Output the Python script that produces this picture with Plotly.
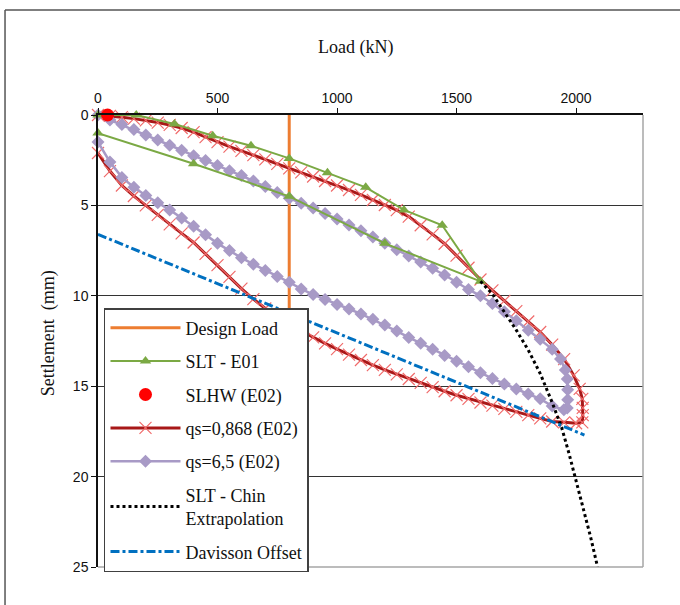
import plotly.graph_objects as go

# ---------------- data ----------------
design_load = 800
settle_range = [0, 25]

slt_e01_load = [0, 160, 320, 480, 640, 800, 960, 1120, 1280, 1440, 1600, 1200, 800, 400, 0]
slt_e01_settle = [0, 0.0, 0.5, 1.15, 1.7, 2.4, 3.2, 4.0, 5.25, 6.1, 9.2, 7.1, 4.5, 2.7, 1.0]

slhw_load = [40]
slhw_settle = [0.0]

qs0868_load = [0, 50, 100, 150, 200, 250, 300, 350, 400, 450, 500, 550, 600, 650, 700, 750, 800,
               850, 900, 950, 1000, 1050, 1100, 1150, 1200, 1250, 1300, 1350, 1400, 1450, 1500,
               1550, 1600, 1650, 1700, 1750, 1800, 1850, 1900, 1950, 1990, 2015, 2026, 2028, 2028,
               2026,
               2000, 1950, 1900, 1850, 1800, 1750, 1700, 1650, 1600, 1550, 1500, 1450, 1400, 1350,
               1300, 1250, 1200, 1150, 1100, 1050, 1000, 950, 900, 850, 800, 750, 700, 650, 600,
               550, 500, 450, 400, 350, 300, 250, 200, 150, 100, 50, 0]
qs0868_settle = [0.0, 0.05, 0.12, 0.2, 0.3, 0.42, 0.55, 0.72, 0.95, 1.22, 1.5, 1.75, 1.98, 2.22,
                 2.45, 2.7, 2.95, 3.17, 3.4, 3.65, 3.9, 4.15, 4.42, 4.7, 4.98, 5.26, 5.62, 6.1,
                 6.6, 7.12, 7.78, 8.45, 9.1, 9.7, 10.28, 10.85, 11.42, 12.0, 12.7, 13.5, 14.4,
                 15.15, 15.7, 16.2, 16.6, 17.0,
                 17.05, 17.0, 16.95, 16.78, 16.6, 16.42, 16.25, 16.07, 15.9, 15.7, 15.5, 15.28,
                 15.05, 14.82, 14.6, 14.35, 14.1, 13.83, 13.55, 13.25, 12.95, 12.63, 12.3, 11.95,
                 11.55, 11.15, 10.7, 10.18, 9.6, 8.95, 8.3, 7.68, 7.05, 6.55, 6.05, 5.52, 5.0,
                 4.48, 3.9, 3.1, 2.1]

qs65_load = [0, 50, 100, 150, 200, 250, 300, 350, 400, 450, 500, 550, 600, 650, 700, 750, 800,
             850, 900, 950, 1000, 1050, 1100, 1150, 1200, 1250, 1300, 1350, 1400, 1450, 1500,
             1550, 1600, 1650, 1700, 1750, 1800, 1850, 1900, 1935, 1955, 1963, 1965, 1965, 1963,
             1949, 1900, 1850, 1800, 1750, 1700, 1650, 1600, 1550, 1500, 1450, 1400, 1350, 1300,
             1250, 1200, 1150, 1100, 1050, 1000, 950, 900, 850, 800, 750, 700, 650, 600, 550,
             500, 450, 400, 350, 300, 250, 200, 150, 100, 50, 0]
qs65_settle = [0.0, 0.28, 0.52, 0.8, 1.1, 1.38, 1.68, 1.95, 2.25, 2.52, 2.8, 3.08, 3.35, 3.65,
               3.95, 4.28, 4.6, 4.88, 5.15, 5.45, 5.75, 6.08, 6.4, 6.75, 7.1, 7.45, 7.8, 8.13,
               8.48, 8.85, 9.25, 9.65, 10.0, 10.42, 10.88, 11.38, 11.9, 12.4, 12.95, 13.5, 14.1,
               14.6, 15.2, 15.75, 16.2,
               16.3, 16.1, 15.7, 15.43, 15.15, 14.88, 14.58, 14.25, 13.93, 13.62, 13.3, 12.95,
               12.62, 12.3, 11.95, 11.62, 11.3, 11.0, 10.73, 10.48, 10.2, 9.93, 9.62, 9.25, 8.93,
               8.6, 8.25, 7.9, 7.5, 7.1, 6.63, 6.15, 5.7, 5.25, 4.85, 4.45, 4.0, 3.45, 2.6, 1.5]

chin_load = [1600, 1650, 1700, 1750, 1800, 1850, 1900, 1940, 1970, 2000, 2030, 2060, 2090]
chin_settle = [9.2, 9.9, 10.9, 11.9, 13.0, 14.3, 15.9, 17.3, 18.7, 20.2, 21.7, 23.3, 25.0]

davisson_load = [0, 2035]
davisson_settle = [6.6, 17.7]

x_ticks = [0, 500, 1000, 1500, 2000]
y_ticks = [0, 5, 10, 15, 20, 25]

# ---------------- figure ----------------
SERIF = "Liberation Serif, Times New Roman, serif"
SANS = "Liberation Sans, Arial, sans-serif"

fig = go.Figure()

fig.add_trace(go.Scatter(x=[design_load, design_load], y=settle_range, mode="lines",
                         name="Design Load", legendgroup="g1", legendrank=1,
                         line=dict(color="#ED7D31", width=3)))
fig.add_trace(go.Scatter(x=qs0868_load, y=qs0868_settle, mode="lines+markers",
                         name="qs=0,868 (E02)", legendgroup="g4", legendrank=4, cliponaxis=False,
                         line=dict(color="#A81818", width=3),
                         marker=dict(symbol="x-thin", size=12, color="#F06A6A",
                                     line=dict(color="#F06A6A", width=1.2))))
fig.add_trace(go.Scatter(x=qs65_load, y=qs65_settle, mode="lines+markers",
                         name="qs=6,5 (E02)", legendgroup="g5", legendrank=5, cliponaxis=False,
                         line=dict(color="#A89AC6", width=2.5),
                         marker=dict(symbol="diamond", size=10, color="#A89AC6")))
fig.add_trace(go.Scatter(x=slt_e01_load, y=slt_e01_settle, mode="lines+markers",
                         name="SLT - E01", legendgroup="g2", legendrank=2, cliponaxis=False,
                         line=dict(color="#7BA944", width=2),
                         marker=dict(symbol="triangle-up", size=10, color="#7BA944")))
fig.add_trace(go.Scatter(x=chin_load, y=chin_settle, mode="lines",
                         name="SLT - Chin<br>Extrapolation", legendgroup="g6", legendrank=6,
                         line=dict(color="#000000", width=3, dash="dot")))
fig.add_trace(go.Scatter(x=davisson_load, y=davisson_settle, mode="lines",
                         name="Davisson Offset", legendgroup="g7", legendrank=7,
                         line=dict(color="#0070C0", width=3, dash="dashdot")))
fig.add_trace(go.Scatter(x=slhw_load, y=slhw_settle, mode="markers",
                         name="SLHW (E02)", legendgroup="g3", legendrank=3, cliponaxis=False,
                         marker=dict(symbol="circle", size=13, color="#FF0000")))

fig.update_layout(
    width=680, height=605,
    margin=dict(l=98, r=37, t=115, b=38),
    paper_bgcolor="white", plot_bgcolor="white",
    showlegend=True,
    legend=dict(x=0.011, y=0.573, xanchor="left", yanchor="top",
                bgcolor="white", bordercolor="#404040", borderwidth=1.5,
                font=dict(family=SERIF, size=18, color="#111"),
                tracegroupgap=7, itemwidth=70, traceorder="grouped"),
    xaxis=dict(side="top", range=[0, 2280], tickvals=x_ticks, showgrid=False, zeroline=False,
               showline=True, linecolor="#111", linewidth=1.5, ticks="outside", ticklen=5,
               tickcolor="#111", tickfont=dict(family=SANS, size=14, color="#111")),
    yaxis=dict(range=[25, 0], tickvals=y_ticks, showgrid=True, gridcolor="#333", gridwidth=1.3,
               zeroline=False, showline=True, linecolor="#111", linewidth=1.5, ticks="outside",
               ticklen=5, tickcolor="#111", tickfont=dict(family=SANS, size=14, color="#111")),
    annotations=[
        dict(text="Load (kN)", xref="paper", yref="paper", x=0.4716, y=1.150,
             xanchor="center", yanchor="middle", showarrow=False,
             font=dict(family=SERIF, size=18, color="#111")),
        dict(text="Settlement  (mm)", xref="paper", yref="paper", x=-0.0917, y=0.517,
             xanchor="center", yanchor="middle", showarrow=False, textangle=-90,
             font=dict(family=SERIF, size=18, color="#111")),
    ],
    shapes=[
        dict(type="line", xref="paper", yref="paper", x0=0, x1=1, y0=0, y1=0,
             line=dict(color="#A6A6A6", width=1.5), layer="above"),
        dict(type="line", xref="paper", yref="paper", x0=1, x1=1, y0=0, y1=1,
             line=dict(color="#A6A6A6", width=1.5), layer="above"),
        dict(type="line", xref="paper", yref="paper", x0=-0.1706, x1=1.2, y0=1.2323, y1=1.2323,
             line=dict(color="#555", width=1.5)),
        dict(type="line", xref="paper", yref="paper", x0=-0.1706, x1=-0.1706, y0=1.2323, y1=-0.2,
             line=dict(color="#555", width=1.5)),
    ],
)

fig.write_html("out.html", config={"displayModeBar": False},
               post_script="document.body.style.margin='0px';")
